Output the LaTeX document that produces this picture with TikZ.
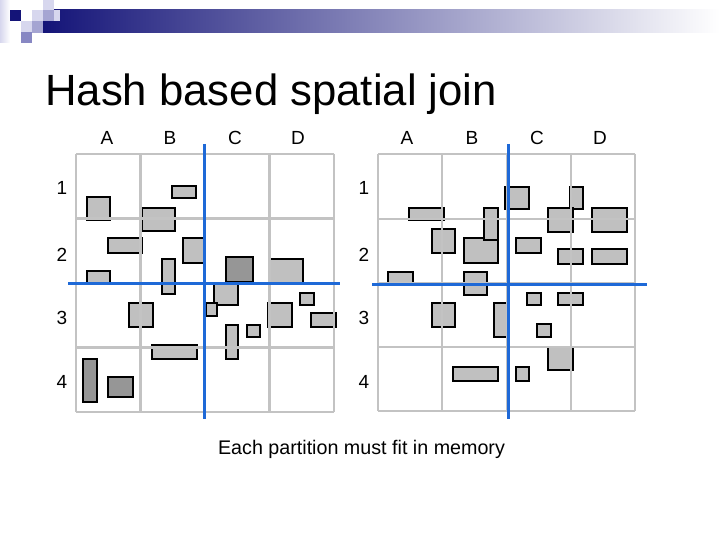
\documentclass[tikz,border=0pt]{standalone}
\usepackage{fontspec}
\setmainfont{Liberation Sans}
\definecolor{boxgrey}{RGB}{192,192,192}
\definecolor{boxdark}{RGB}{150,150,150}
\definecolor{gridgrey}{RGB}{195,195,195}
\definecolor{partblue}{RGB}{30,105,215}
\definecolor{navy}{RGB}{20,20,120}
\definecolor{lav1}{RGB}{215,215,238}
\definecolor{lav2}{RGB}{165,165,210}
\definecolor{lav3}{RGB}{135,135,195}
\begin{document}
\begin{tikzpicture}[x=1pt,y=-1pt,
  box/.style={draw=black,line width=2.8pt,fill=boxgrey},
  dbox/.style={box,fill=boxdark},
  gridl/.style={draw=gridgrey,line width=2.4pt},
  partline/.style={draw=partblue,line width=3pt},
  collabel/.style={font=\fontsize{19}{19}\selectfont,inner sep=0pt},
  rowlabel/.style={font=\fontsize{19}{19}\selectfont,inner sep=0pt}]
\useasboundingbox (0,0) rectangle (720,540);
% header
\shade[left color=navy,right color=white,shading angle=90] (43,10) rectangle (720,33);
\fill[left color=lav1,right color=white] (0,0) rectangle (10,43);
\fill[navy] (10,10) rectangle (21,21);
\fill[lav1] (43,0) rectangle (54,10);
\fill[lav1] (32,10) rectangle (43,21);
\fill[lav2] (43,10) rectangle (54,21);
\fill[lav1] (54,10) rectangle (60,21);
\fill[lav1] (21,21) rectangle (32,32);
\fill[lav2] (32,21) rectangle (43,33);
\fill[lav3] (21,32) rectangle (32,43);
% title
\node[anchor=base west,inner sep=0pt,font=\fontsize{43.7}{44}\selectfont] (title) at (45,106) {Hash based spatial join};
% ---------- left grid rectangles
\draw[box] (87,197) rectangle (110,220);
\draw[box] (172,186) rectangle (196,198);
\draw[box] (142,208) rectangle (175,231);
\draw[box] (108,238) rectangle (142,253);
\draw[box] (183,238) rectangle (205,263);
\draw[box] (162,259) rectangle (175,294);
\draw[box] (87,271) rectangle (110,284);
\draw[dbox] (226,257) rectangle (253,282);
\draw[box] (269,259) rectangle (303,283);
\draw[box] (129,303) rectangle (153,327);
\draw[box] (152,345) rectangle (197,359);
\draw[dbox] (83,359) rectangle (97,402);
\draw[dbox] (108,377) rectangle (133,397);
\draw[box] (214,283) rectangle (238,305);
\draw[box] (206,303) rectangle (217,316);
\draw[box] (300,293) rectangle (314,305);
\draw[box] (268,303) rectangle (292,327);
\draw[box] (311,313) rectangle (336,327);
\draw[box] (226,325) rectangle (238,359);
\draw[box] (247,325) rectangle (260,337);
% ---------- right grid rectangles
\draw[box] (409,208) rectangle (444,220);
\draw[box] (432,229) rectangle (455,253);
\draw[box] (464,238) rectangle (498,263);
\draw[box] (484,208) rectangle (498,240);
\draw[box] (505,187) rectangle (529,209);
\draw[box] (388,272) rectangle (413,283);
\draw[box] (464,272) rectangle (487,295);
\draw[box] (516,238) rectangle (541,253);
\draw[box] (570,187) rectangle (583,209);
\draw[box] (548,208) rectangle (573,232);
\draw[box] (592,208) rectangle (627,232);
\draw[box] (558,249) rectangle (583,264);
\draw[box] (592,249) rectangle (627,264);
\draw[box] (432,303) rectangle (455,327);
\draw[box] (494,303) rectangle (507,337);
\draw[box] (453,367) rectangle (498,381);
\draw[box] (516,367) rectangle (529,381);
\draw[box] (527,293) rectangle (541,305);
\draw[box] (558,293) rectangle (583,305);
\draw[box] (537,324) rectangle (551,337);
\draw[box] (548,347) rectangle (573,370);
% ---------- grids
\foreach \x in {76,140.5,205,269.5,334} \draw[gridl] (\x,154) -- (\x,412);
\foreach \y in {154,218.5,283,347.5,412} \draw[gridl] (76,\y) -- (334,\y);
\foreach \x in {378,442,507,571,635} \draw[gridl] (\x,154) -- (\x,411);
\foreach \y in {154,219,283,347,411} \draw[gridl] (378,\y) -- (635,\y);
% ---------- partition lines
\draw[partline] (204,144) -- (204,419);
\draw[partline] (68,283) -- (340,283);
\draw[partline] (508,144) -- (508,419);
\draw[partline] (372,284) -- (647,284);
% ---------- labels
\node[collabel] (lA) at (107,138) {A};
\node[collabel] (lB) at (170,138) {B};
\node[collabel] (lC) at (235,138) {C};
\node[collabel] (lD) at (298,138) {D};
\node[collabel] (rA) at (407,138) {A};
\node[collabel] (rB) at (472,138) {B};
\node[collabel] (rC) at (537,138) {C};
\node[collabel] (rD) at (600,138) {D};
\node[rowlabel] (l1) at (62,188) {1};
\node[rowlabel] (l2) at (62,255) {2};
\node[rowlabel] (l3) at (62,318) {3};
\node[rowlabel] (l4) at (62,382) {4};
\node[rowlabel] (r1) at (364,188) {1};
\node[rowlabel] (r2) at (364,255) {2};
\node[rowlabel] (r3) at (364,318) {3};
\node[rowlabel] (r4) at (364,382) {4};
\node[anchor=base,inner sep=0pt,font=\fontsize{19.7}{20}\selectfont] (note) at (361.5,454) {Each partition must fit in memory};
\end{tikzpicture}
\end{document}
